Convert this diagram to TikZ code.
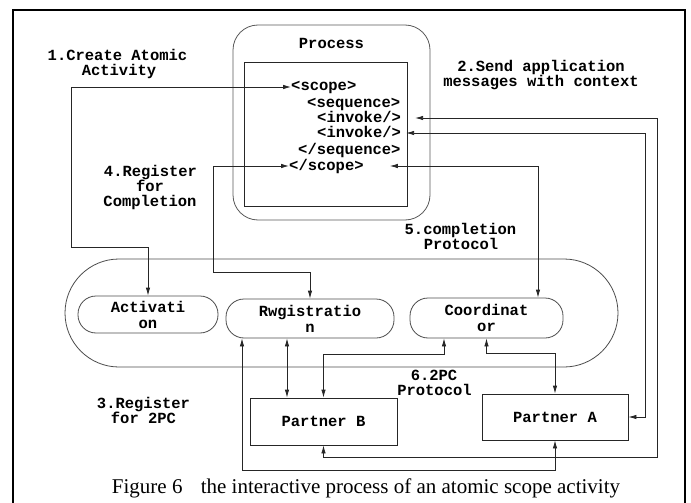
\documentclass[tikz,border=0pt]{standalone}
\usepackage{fontspec}
\setmainfont{Liberation Serif}
\newfontfamily\codefont{Liberation Mono}
\usetikzlibrary{arrows.meta}

\begin{document}
\begin{tikzpicture}[x=1pt,y=-1pt,
  lbl/.style={font=\codefont\bfseries\fontsize{15.5}{16}\selectfont, inner sep=0pt, align=center},
  txt/.style={font=\codefont\bfseries\fontsize{15.5}{16}\selectfont, inner sep=0pt, text height=11pt, text depth=3pt},
  codeline/.style={txt, anchor=west},
  pill/.style={lbl, draw=black!70, line width=0.8pt, rounded corners=18pt},
  partner/.style={lbl, draw=black!85, line width=0.8pt},
  conn/.style={draw=black!85, line width=0.8pt, {Latex[length=8pt,width=4.5pt]}-{Latex[length=8pt,width=4.5pt]}},
]
\useasboundingbox (0,0) rectangle (691,503);

% outer frame (open at the bottom edge)
\draw[line width=1.8pt] (13,503) -- (13,10) -- (685,10) -- (685,503);

% process container
\draw[black!65, line width=0.8pt, rounded corners=25pt] (233,25) rectangle (430,220);
\draw[black!85, line width=0.8pt] (244,62) rectangle (407,206);
\node[txt] (proc) at (331.5,45) {Process};

% code lines
\node[codeline] (scope)  at (291,87)  {<scope>};
\node[codeline] (seq)    at (307,103) {<sequence>};
\node[codeline] (inv1)   at (317,118) {<invoke/>};
\node[codeline] (inv2)   at (317,133) {<invoke/>};
\node[codeline] (eseq)   at (298,150) {</sequence>};
\node[codeline] (escope) at (289,166) {</scope>};

% coordination service
\draw[black!70, line width=0.8pt, rounded corners=54pt] (65,259) rectangle (618,367);
\node[pill, minimum width=140pt, minimum height=37pt] (act)   at (148,314.5) {Activati\\on};
\node[pill, minimum width=168pt, minimum height=39pt] (reg)   at (310,318.5) {Rwgistratio\\n};
\node[pill, minimum width=153pt, minimum height=40pt] (coord) at (486.5,318) {Coordinat\\or};

% partners
\node[partner, minimum width=147pt, minimum height=47pt] (pb) at (323.5,421.5) {Partner B};
\node[partner, minimum width=146pt, minimum height=46pt] (pa) at (555,417) {Partner A};

% free ends beside the code lines
\coordinate (inv1tip)   at ([xshift=14pt]inv1.east);
\coordinate (inv2tip)   at ([xshift=5pt]inv2.east);
\coordinate (escopetip) at ([xshift=26pt]escope.east);

% connectors
\draw[conn] (scope.west) -| (71,247) -| (act.north);
\draw[conn] (escope.west) -| (213,272) -| (reg.north);
\draw[conn] (escopetip) -| ([xshift=51.5pt]coord.north);
\draw[conn] (inv1tip) -| (657,457) -| (pb.south);
\draw[conn] (inv2tip) -| (645,417) -- (pa.east);
\draw[conn] ([xshift=-23pt]reg.south) -- ([xshift=-23pt]reg.south |- pb.north);
\draw[conn] ([xshift=-42.5pt]coord.south) -- ++(0,16) -| (pb.north);
\draw[conn] (coord.south) -- ++(0,15) -| (pa.north);
\draw[conn] (pa.south) -- ++(0,30) -| ([xshift=-68pt]reg.south);

% step labels, one node per line
\node[txt] (l1a) at (117.5,57) {1.Create Atomic};
\node[txt] (l1b) at (119,72)   {Activity};
\node[txt] (l2a) at (541,68)   {2.Send application};
\node[txt] (l2b) at (541,83)   {messages with context};
\node[txt] (l4a) at (150.5,172) {4.Register};
\node[txt] (l4b) at (150,187)   {for};
\node[txt] (l4c) at (150,202)   {Completion};
\node[txt] (l5a) at (460.5,230) {5.completion};
\node[txt] (l5b) at (461,245)   {Protocol};
\node[txt] (l3a) at (143.5,404) {3.Register};
\node[txt] (l3b) at (143.5,419) {for 2PC};
\node[txt] (l6a) at (434,376)   {6.2PC};
\node[txt] (l6b) at (434.5,391) {Protocol};

% caption
\node[font=\fontsize{21}{21}\selectfont, inner sep=0pt] (cap) at (366,488)
  {Figure 6\hspace{13pt} the interactive process of an atomic scope activity};
\end{tikzpicture}
\end{document}
